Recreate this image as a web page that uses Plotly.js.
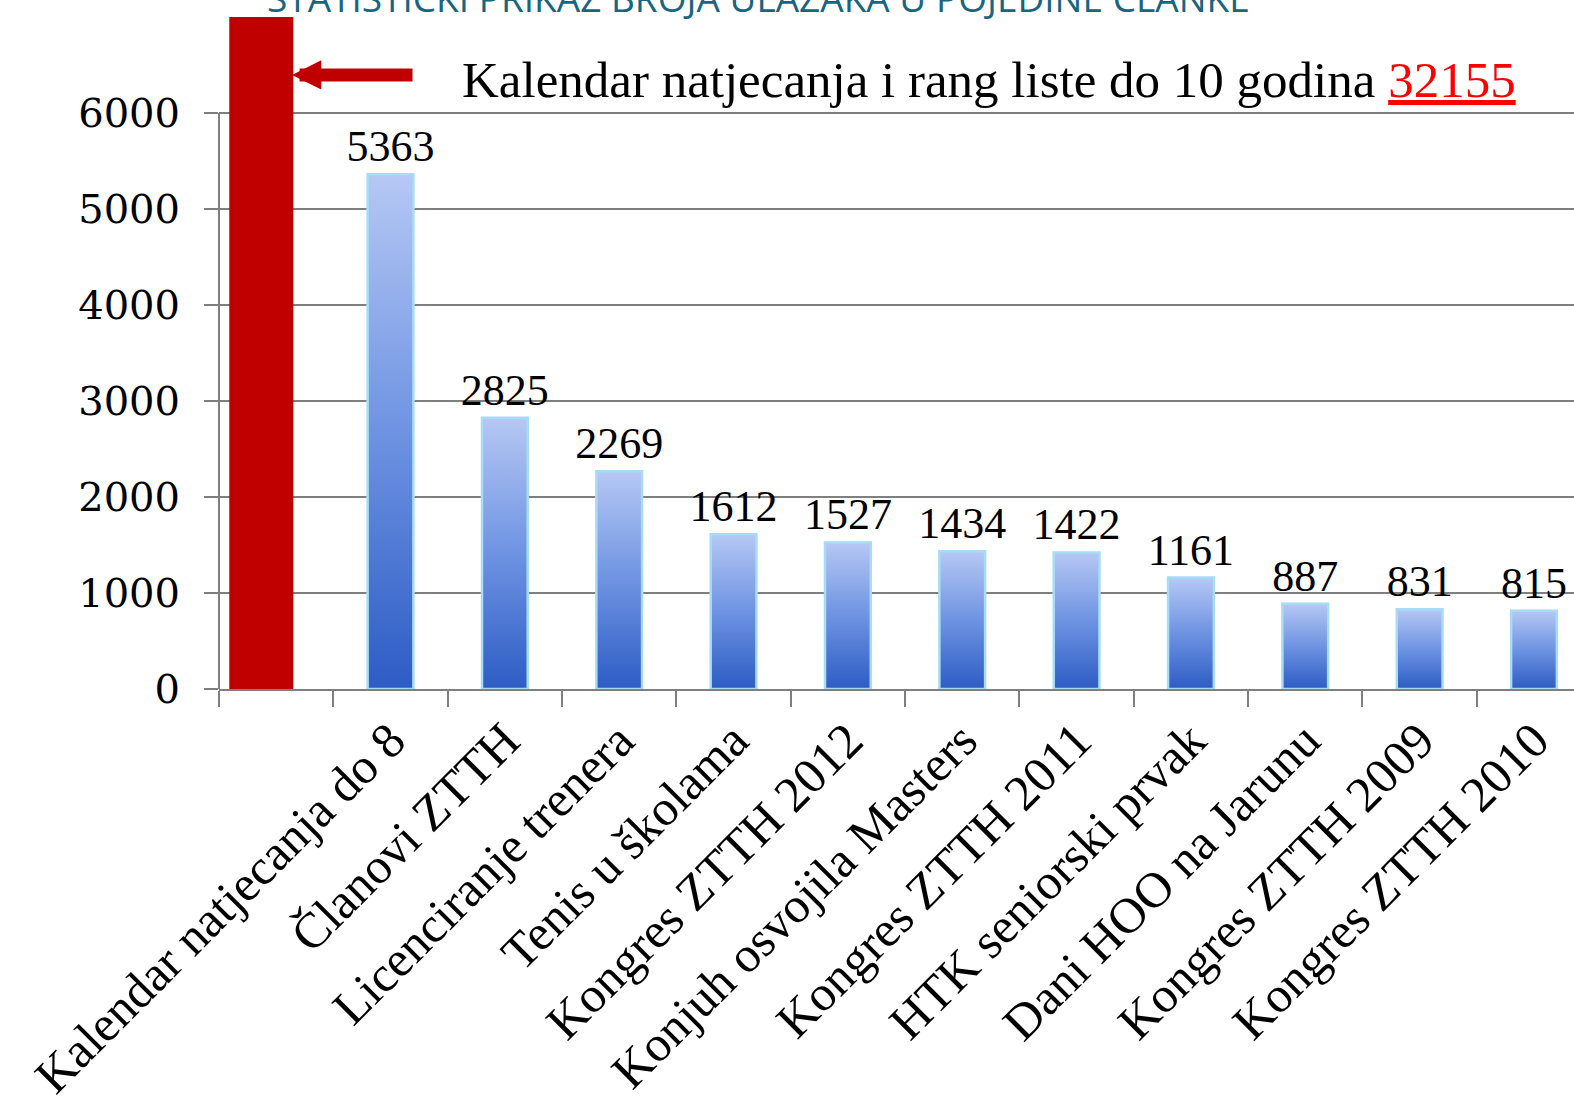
<!DOCTYPE html>
<html>
<head>
<meta charset="utf-8">
<script src="https://cdn.plot.ly/plotly-3.0.1.min.js"></script>
<style>
html,body{margin:0;padding:0;background:#ffffff;}
#chart{width:1574px;height:1115px;}
</style>
</head>
<body>
<div id="chart"></div>
<script>
// ---- data ----
var highlightCategory = ["Kalendar natjecanja i rang liste do 10 godina"];
var highlightValue = [32155];
var categories = [
  "Kalendar natjecanja do 8",
  "Članovi ZTTH",
  "Licenciranje trenera",
  "Tenis u školama",
  "Kongres ZTTH 2012",
  "Konjuh osvojila Masters",
  "Kongres ZTTH 2011",
  "HTK seniorski prvak",
  "Dani HOO na Jarunu",
  "Kongres ZTTH 2009",
  "Kongres ZTTH 2010"
];
var values = [5363, 2825, 2269, 1612, 1527, 1434, 1422, 1161, 887, 831, 815];
var yTicks = [0, 1000, 2000, 3000, 4000, 5000, 6000];
var chartTitle = "STATISTIČKI PRIKAZ BROJA ULAZAKA U POJEDINE ČLANKE";
var calloutText = "Kalendar natjecanja i rang liste do 10 godina";

var allCats = highlightCategory.concat(categories);
var tickText = [""].concat(categories);

var serif = "'Liberation Serif', 'DejaVu Serif', serif";
var grey = "#7f7f7f";

var traces = [
  {
    type: "bar",
    x: highlightCategory,
    y: highlightValue,
    width: 0.56,
    offset: -0.41,
    marker: {color: "#c00000", line: {width: 0}},
    hoverinfo: "x+y",
    showlegend: false
  },
  {
    type: "bar",
    x: categories,
    y: values,
    width: 0.4,
    text: values.map(String),
    textposition: "outside",
    constraintext: "none",
    cliponaxis: false,
    textfont: {family: serif, size: 44, color: "#000000"},
    marker: {color: "#5f86dc", line: {width: 2.5, color: "#a6dcf6"}},
    showlegend: false
  }
];

var layout = {
  width: 1574,
  height: 1115,
  margin: {l: 219, r: 0, t: 17, b: 426},
  paper_bgcolor: "#ffffff",
  plot_bgcolor: "rgba(0,0,0,0)",
  barmode: "overlay",
  showlegend: false,
  xaxis: {
    type: "category",
    categoryorder: "array",
    categoryarray: allCats,
    range: [-0.5, 11.35],
    tickmode: "array",
    tickvals: allCats,
    ticktext: tickText,
    tickson: "boundaries",
    ticks: "outside",
    ticklen: 16,
    tickwidth: 2,
    tickcolor: grey,
    tickangle: -45,
    tickfont: {family: serif, size: 50, color: "#000000"},
    showline: true,
    linecolor: grey,
    linewidth: 2,
    showgrid: false,
    zeroline: false,
    automargin: false,
    fixedrange: true
  },
  yaxis: {
    range: [0, 7000],
    tickmode: "array",
    tickvals: yTicks,
    ticktext: yTicks.map(String),
    ticks: "outside",
    ticklen: 14,
    tickwidth: 2,
    tickcolor: grey,
    ticklabelstandoff: 16,
    tickfont: {family: "'DejaVu Serif', serif", size: 40, color: "#000000"},
    showgrid: true,
    gridcolor: grey,
    gridwidth: 2,
    showline: false,
    zeroline: false,
    automargin: false,
    fixedrange: true
  },
  shapes: [
    {type: "line", xref: "paper", yref: "y", x0: 0, x1: 0, y0: 0, y1: 6000,
     line: {color: grey, width: 2}, layer: "below"}
  ],
  annotations: [
    {
      text: chartTitle,
      xref: "paper", yref: "paper",
      x: 0.398, y: 1.0,
      xanchor: "center", yanchor: "bottom",
      yshift: -8,
      showarrow: false,
      font: {family: "'Open Sans', 'Noto Sans', sans-serif", size: 37, color: "#17657f"}
    },
    {
      text: calloutText + " <span style='color:#ff0000'><u>" + highlightValue[0] + "</u></span>",
      xref: "paper", yref: "y",
      x: (460 - 219) / (1574 - 219), y: 6340,
      xanchor: "left", yanchor: "middle",
      showarrow: false,
      font: {family: serif, size: 51, color: "#000000"}
    },
    {
      text: "",
      xref: "paper", yref: "y",
      x: (292 - 219) / (1574 - 219), y: 6396,
      ax: 122, ay: 0,
      showarrow: true,
      arrowhead: 2,
      arrowsize: 0.45,
      arrowwidth: 13,
      arrowcolor: "#c00000"
    }
  ]
};

Plotly.newPlot("chart", traces, layout, {displayModeBar: false, staticPlot: true}).then(function (gd) {
  var svg = gd.querySelector("svg.main-svg");
  var ns = "http://www.w3.org/2000/svg";
  var defs = svg.querySelector("defs");
  var grad = document.createElementNS(ns, "linearGradient");
  grad.setAttribute("id", "blueGrad");
  grad.setAttribute("x1", "0"); grad.setAttribute("y1", "0");
  grad.setAttribute("x2", "0"); grad.setAttribute("y2", "1");
  var stops = [["0", "#b6c8f4"], ["0.5", "#6e93e2"], ["1", "#2d5cc4"]];
  stops.forEach(function (s) {
    var st = document.createElementNS(ns, "stop");
    st.setAttribute("offset", s[0]);
    st.setAttribute("stop-color", s[1]);
    grad.appendChild(st);
  });
  defs.appendChild(grad);
  var barTraces = gd.querySelectorAll(".barlayer .trace");
  if (barTraces.length > 1) {
    barTraces[1].querySelectorAll("path").forEach(function (p) {
      p.style.fill = "url(#blueGrad)";
    });
  }
});
</script>
</body>
</html>
